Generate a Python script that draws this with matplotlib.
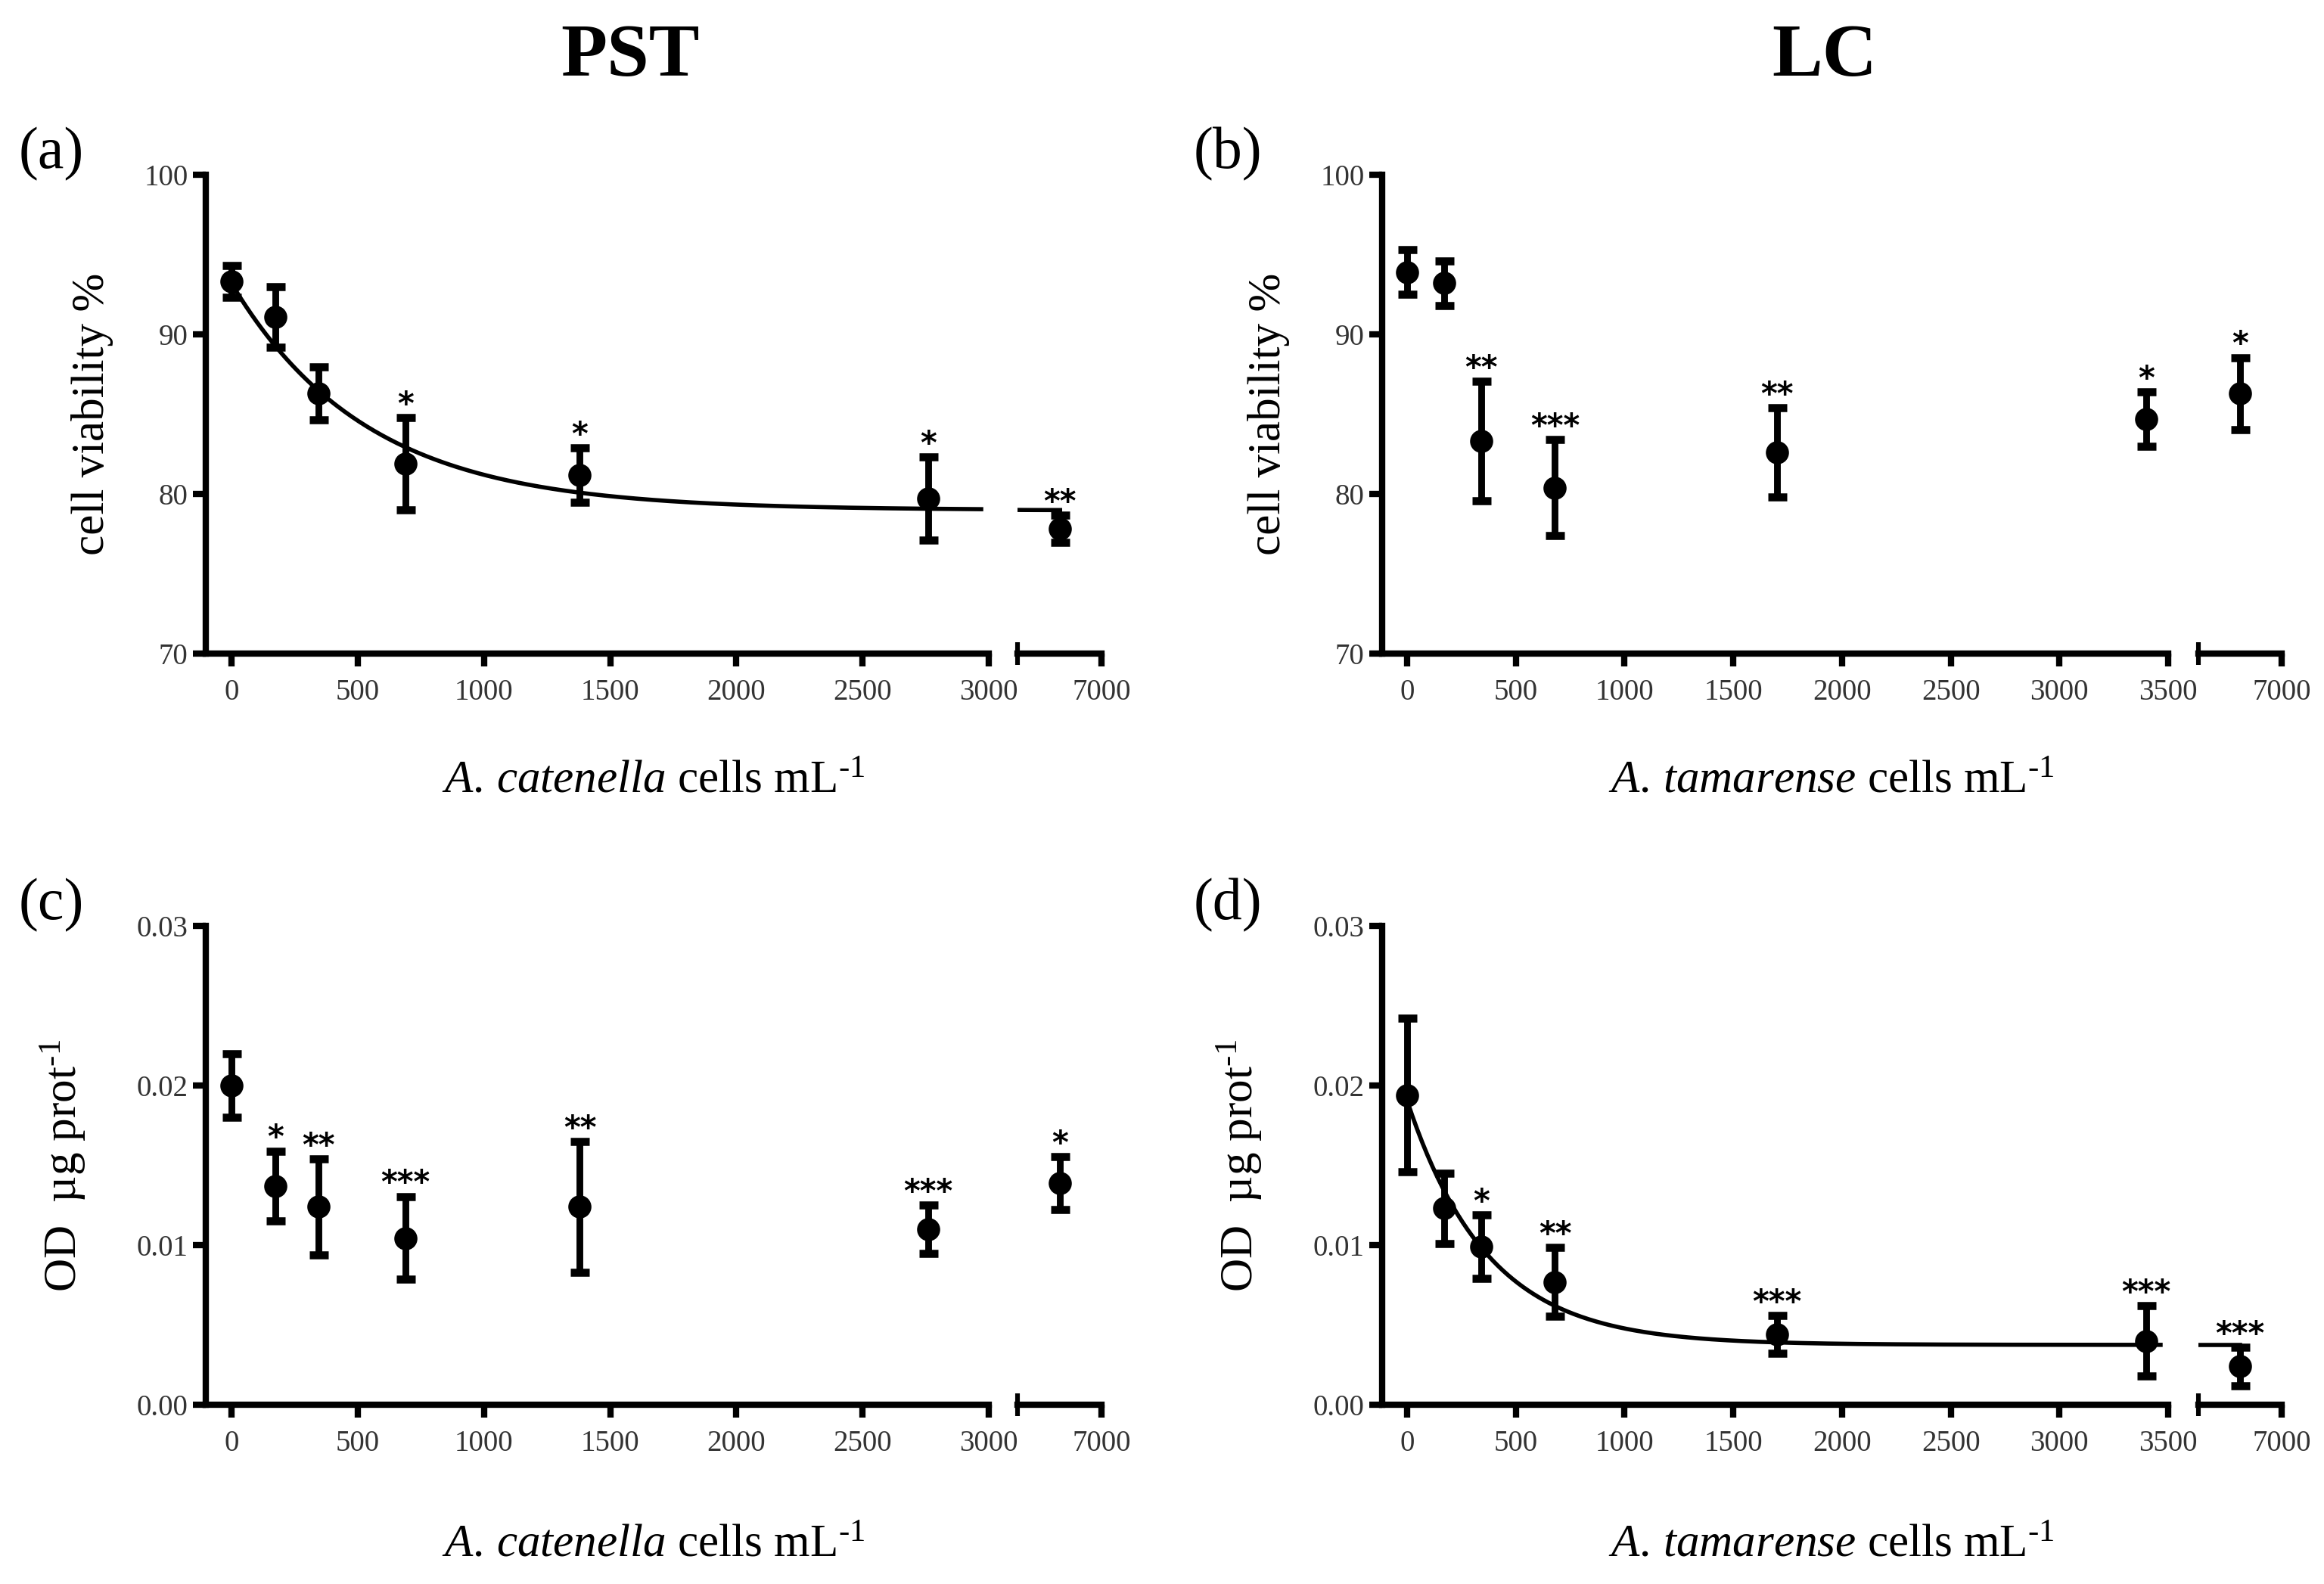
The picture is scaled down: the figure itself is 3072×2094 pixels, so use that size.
import numpy as np
import matplotlib
matplotlib.use("Agg")
import matplotlib.pyplot as plt
from matplotlib.ticker import FormatStrFormatter

plt.rcParams['font.family'] = ['Liberation Serif', 'DejaVu Serif']
plt.rcParams['mathtext.fontset'] = 'custom'
plt.rcParams['mathtext.rm'] = 'Liberation Serif'
plt.rcParams['mathtext.it'] = 'Liberation Serif:italic'

# doses (cells per mL)
pst_x = [0, 172.5, 345, 690, 1380, 2760, 5520]
lc_x = [0, 170, 340, 680, 1700, 3400, 6800]

# cell viability %
via_pst = [93.3, 91.1, 86.3, 81.9, 81.2, 79.7, 77.8]
via_pst_err = [1.0, 1.9, 1.65, 2.9, 1.7, 2.6, 0.85]
via_pst_sig = ['', '', '', '*', '*', '*', '**']
via_lc = [93.9, 93.2, 83.3, 80.4, 82.6, 84.7, 86.3]
via_lc_err = [1.4, 1.4, 3.75, 3.0, 2.8, 1.7, 2.25]
via_lc_sig = ['', '', '**', '***', '**', '*', '*']

# OD per ug protein
od_pst = [0.0200, 0.0137, 0.0124, 0.01045, 0.0124, 0.0110, 0.0139]
od_pst_err = [0.0020, 0.0022, 0.0030, 0.0026, 0.0041, 0.0015, 0.00165]
od_pst_sig = ['', '*', '**', '***', '**', '***', '*']
od_lc = [0.0194, 0.0123, 0.0099, 0.0077, 0.0044, 0.0040, 0.0024]
od_lc_err = [0.0048, 0.0022, 0.0020, 0.00215, 0.0012, 0.0022, 0.0012]
od_lc_sig = ['', '', '*', '**', '***', '***', '***']

# one-phase decay fits: plateau, span, rate
via_pst_fit = (78.99, 14.2, 0.00186)
od_lc_fit = (0.00375, 0.0153, 0.0027)

W, H = 3072, 2094
fig = plt.figure(figsize=(W / 200, H / 200), dpi=200)


def px_axes(x0, x1, ytop, ybot):
    return fig.add_axes([x0 / W, 1 - ybot / H, (x1 - x0) / W, (ybot - ytop) / H])


def style(ax):
    for s in ['top', 'right']:
        ax.spines[s].set_visible(False)
    for s in ['left', 'bottom']:
        ax.spines[s].set_linewidth(3)
    ax.tick_params(which='major', direction='out', length=6, width=3,
                   labelsize=14, labelcolor='#333333')
    ax.tick_params(axis='y', pad=2.5)
    ax.tick_params(axis='x', pad=6)
    ax.tick_params(which='minor', direction='inout', length=11, width=2.2)


def draw(cols, rows, x, y, err, sig, xmax, brk, ylim, yticks, yfmt, fit=None):
    ax = px_axes(cols[0], cols[1], rows[0], rows[1])
    axb = px_axes(cols[2], cols[3], rows[0], rows[1])
    style(ax)
    style(axb)
    ax.set_xlim(cols[4], xmax)
    ax.set_ylim(*ylim)
    ax.set_yticks(yticks)
    ax.yaxis.set_major_formatter(FormatStrFormatter(yfmt))
    ax.set_xticks(np.arange(0, xmax + 1, 500))
    ax.set_xticks([xmax], minor=True)

    axb.set_xlim(brk, 7000)
    axb.set_ylim(*ylim)
    axb.spines['left'].set_visible(False)
    axb.set_yticks([])
    axb.set_xticks([7000])
    axb.set_xticklabels(['7000'])
    axb.set_xticks([brk], minor=True)
    axb.patch.set_alpha(0)
    ax.patch.set_alpha(0)

    x = np.array(x)
    y = np.array(y)
    err = np.array(err)

    if fit is not None:
        p, s, k = fit
        xs = np.linspace(0, xmax * 0.99, 300)
        ax.plot(xs, p + s * np.exp(-k * xs), color='black', lw=2, zorder=2)
        xb = np.linspace(brk, x[-1], 50)
        axb.plot(xb, p + s * np.exp(-k * xb), color='black', lw=2, zorder=2)

    for xi, yi, ei, si in zip(x, y, err, sig):
        a = ax if xi <= xmax else axb
        a.errorbar([xi], [yi], yerr=[ei], fmt='o', color='black', ms=10,
                   elinewidth=3.2, capsize=4.5, capthick=3.8, clip_on=False,
                   zorder=3)
        if si:
            a.annotate(si, xy=(xi, yi + ei), xytext=(0, 1.5),
                       textcoords='offset points', ha='center', va='baseline',
                       fontsize=15, fontweight='bold', family='DejaVu Sans',
                       annotation_clip=False)
    return ax, axb


top_rows = (231, 864)
bot_rows = (1224, 1857)
left_cols = (272, 1307, 1345, 1456, -102)
right_cols = (1827, 2866, 2906, 3016, -115)

draw(left_cols, top_rows, pst_x, via_pst, via_pst_err, via_pst_sig, 3000, 4000,
     (70, 100), [70, 80, 90, 100], '%d', fit=via_pst_fit)
draw(right_cols, top_rows, lc_x, via_lc, via_lc_err, via_lc_sig, 3500, 6600,
     (70, 100), [70, 80, 90, 100], '%d')
draw(left_cols, bot_rows, pst_x, od_pst, od_pst_err, od_pst_sig, 3000, 4000,
     (0, 0.03), [0, 0.01, 0.02, 0.03], '%.2f')
draw(right_cols, bot_rows, lc_x, od_lc, od_lc_err, od_lc_sig, 3500, 6600,
     (0, 0.03), [0, 0.01, 0.02, 0.03], '%.2f', fit=od_lc_fit)

# column titles
fig.text(833 / W, 1 - 100 / H, 'PST', fontsize=36, fontweight='bold',
         ha='center', va='baseline')
fig.text(2412 / W, 1 - 100 / H, 'LC', fontsize=36, fontweight='bold',
         ha='center', va='baseline')

# panel letters
for lab, px, py in [('(a)', 25, 222), ('(b)', 1578, 222),
                    ('(c)', 25, 1215), ('(d)', 1578, 1215)]:
    fig.text(px / W, 1 - py / H, lab, fontsize=28, ha='left', va='baseline')

sup = r'$^{\text{-}1}$'

# y labels
fig.text(150 / W, 1 - 547 / H, 'cell viability %', fontsize=22, rotation=90,
         ha='right', va='center')
fig.text(1705 / W, 1 - 547 / H, 'cell viability %', fontsize=22, rotation=90,
         ha='right', va='center')
fig.text(116 / W, 1 - 1541 / H, 'OD  µg prot' + sup, fontsize=22, rotation=90,
         ha='right', va='center')
fig.text(1671 / W, 1 - 1541 / H, 'OD  µg prot' + sup, fontsize=22, rotation=90,
         ha='right', va='center')

# x labels
xl_cat = r'$\mathit{A.\,catenella}$ cells mL' + sup
xl_tam = r'$\mathit{A.\,tamarense}$ cells mL' + sup
fig.text(864 / W, 1 - 1047 / H, xl_cat, fontsize=22, ha='center', va='baseline')
fig.text(2421 / W, 1 - 1047 / H, xl_tam, fontsize=22, ha='center', va='baseline')
fig.text(864 / W, 1 - 2058 / H, xl_cat, fontsize=22, ha='center', va='baseline')
fig.text(2421 / W, 1 - 2058 / H, xl_tam, fontsize=22, ha='center', va='baseline')

fig.savefig('out.png', dpi=200)
